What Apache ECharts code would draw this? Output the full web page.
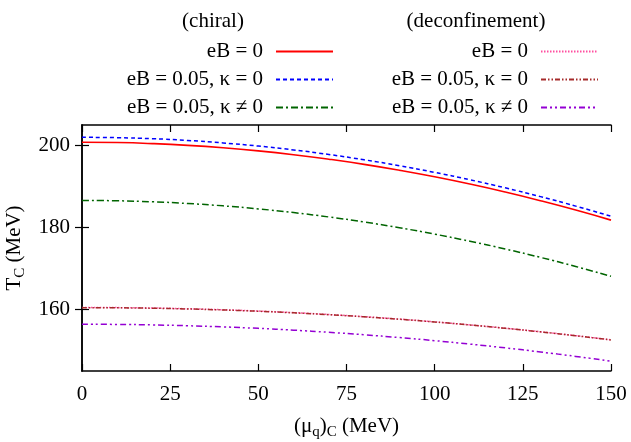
<!DOCTYPE html>
<html>
<head>
<meta charset="utf-8">
<script src="https://cdn.jsdelivr.net/npm/echarts@6/dist/echarts.min.js"></script>
<style>html,body{margin:0;padding:0;background:#fff}#c{width:631px;height:442px}</style>
</head>
<body>
<div id="c"></div>
<script>
const mu = [0,10,20,30,40,50,60,70,80,90,100,110,120,130,140,150];
const chiralEB0 = [200.8,200.72,200.46,200.04,199.45,198.69,197.76,196.66,195.40,193.96,192.36,190.59,188.65,186.54,184.26,181.8];
const chiralEBk0 = [202.0,201.91,201.66,201.23,200.63,199.86,198.92,197.81,196.52,195.07,193.44,191.64,189.67,187.53,185.22,182.75];
const chiralEBk1 = [186.6,186.52,186.27,185.86,185.28,184.54,183.64,182.57,181.34,179.94,178.38,176.65,174.76,172.71,170.49,168.1];
const deconfEB0 = [160.5,160.46,160.36,160.18,159.94,159.62,159.24,158.78,158.25,157.66,156.99,156.25,155.44,154.57,153.62,152.6];
const deconfEBk0 = [160.45,160.41,160.31,160.13,159.89,159.57,159.19,158.74,158.21,157.62,156.96,156.22,155.42,154.55,153.6,152.58];
const deconfEBk1 = [156.4,156.36,156.24,156.04,155.76,155.4,154.96,154.44,153.84,153.16,152.4,151.56,150.64,149.64,148.56,147.4];
const xTicks = [0,25,50,75,100,125,150];
const yTicks = [160,180,200];
const names = ['eB = 0','eB = 0.05, κ = 0','eB = 0.05, κ ≠ 0'];

const FONT = 'Liberation Serif';
const FS = 21;
const pair = arr => mu.map((m,i)=>[m,arr[i]]);
function mk(name, id, data, color, dash, w){
  return {type:'line', name:name, id:id, data:pair(data), symbol:'none', showSymbol:false, smooth:true,
    lineStyle:{color:color, width:w||1.5, type:dash}, itemStyle:{color:color}, xAxisIndex:0, yAxisIndex:0, z:3};
}
const dn = names.map(n => n + '\u200b');
const series = [
  mk(names[0],'c0',chiralEB0,'#ff0000','solid',1.6),
  mk(names[1],'c1',chiralEBk0,'#0000ff',[4,3]),
  mk(names[2],'c2',chiralEBk1,'#006400',[7,3,2,3]),
  mk(dn[0],'d0',deconfEB0,'#ff4fa0',[1.5,1.5]),
  mk(dn[1],'d1',deconfEBk0,'#a52a2a',[5,2,1.5,2,1.5,2]),
  mk(dn[2],'d2',deconfEBk1,'#9400d3',[6,3,2,3,2,3])
];
const axisLineS = {show:true,lineStyle:{color:'#000',width:1.5}};
const tickS = vals => ({show:true,inside:true,length:7,lineStyle:{color:'#000',width:1.2},customValues:vals});
const legendCommon = {
  orient:'vertical', align:'right', itemWidth:57, itemHeight:14, itemGap:7,
  itemStyle:{opacity:0},
  textStyle:{fontFamily:FONT,fontSize:FS,color:'#000',padding:[0,8,0,0]},
  selectedMode:false
};
const chart = echarts.init(document.getElementById('c'));
chart.setOption({
  backgroundColor:'#fff',
  animation:false,
  grid:{left:82,right:20,top:125,bottom:71,containLabel:false,outerBoundsMode:'none'},
  xAxis:[
    {type:'value',min:0,max:150,interval:25,position:'bottom',
      name:'{n|(μ}{s|q}{n|)}{s|C}{n| (MeV)}', nameLocation:'middle', nameGap:42,
      nameTextStyle:{rich:{n:{fontFamily:FONT,fontSize:FS,color:'#000'},s:{fontFamily:FONT,fontSize:15,color:'#000',padding:[12,0,0,0]}}},
      axisLine:axisLineS, axisTick:tickS(xTicks), splitLine:{show:false},
      axisLabel:{fontFamily:FONT,fontSize:FS,color:'#000',margin:13,customValues:xTicks}},
    {type:'value',min:0,max:150,interval:25,position:'top',axisLabel:{show:false},
      axisLine:axisLineS, axisTick:tickS(xTicks), splitLine:{show:false}}
  ],
  yAxis:[
    {type:'value',min:145,max:205,interval:5,position:'left',
      name:'{n|T}{s|C}{n| (MeV)}', nameLocation:'middle', nameGap:50, nameRotate:90,
      nameTextStyle:{rich:{n:{fontFamily:FONT,fontSize:FS,color:'#000'},s:{fontFamily:FONT,fontSize:15,color:'#000',padding:[12,0,0,0]}}},
      axisLine:axisLineS, axisTick:tickS(yTicks), splitLine:{show:false},
      axisLabel:{fontFamily:FONT,fontSize:FS,color:'#000',margin:12,customValues:yTicks}},
    {type:'value',min:145,max:205,interval:5,position:'right',axisLabel:{show:false},
      axisLine:axisLineS, axisTick:tickS(yTicks), splitLine:{show:false}}
  ],
  legend:[
    Object.assign({data:names, right:631-339, top:36}, legendCommon),
    Object.assign({data:dn, right:631-604, top:36,
      formatter:n=>n.replace('\u200b','')}, legendCommon)
  ],
  graphic:[
    {type:'text',x:213,y:21,style:{text:'(chiral)',font:FS+'px "Liberation Serif"',fill:'#000',textAlign:'center',textVerticalAlign:'middle'}},
    {type:'text',x:476,y:21,style:{text:'(deconfinement)',font:FS+'px "Liberation Serif"',fill:'#000',textAlign:'center',textVerticalAlign:'middle'}}
  ],
  series:series
});
</script>
</body>
</html>
